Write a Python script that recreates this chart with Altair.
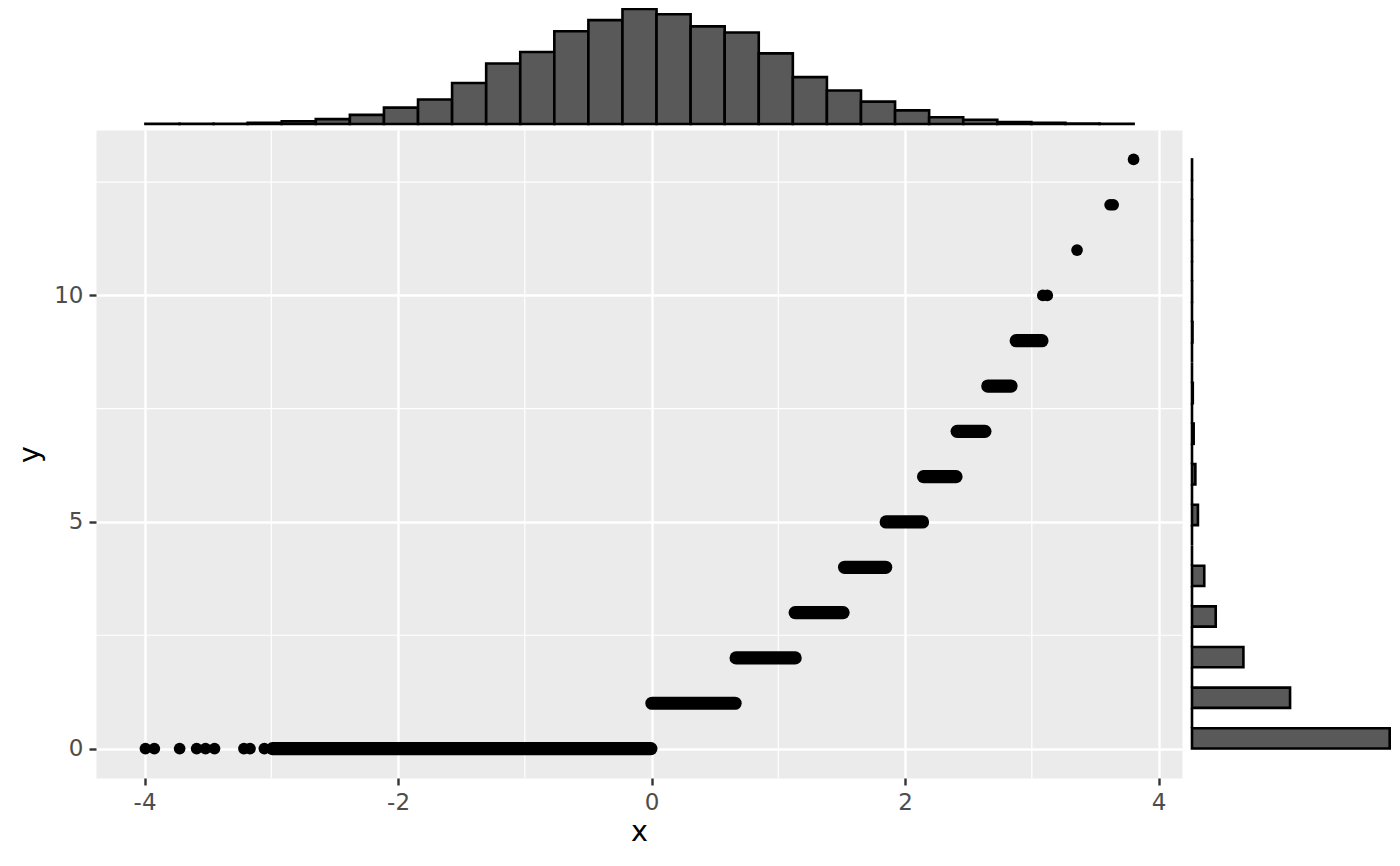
import altair as alt
import numpy as np
import pandas as pd

# ---------------- data ----------------
# isolated points of the scatter
pt_x = [-3.993, -3.923, -3.723, -3.589, -3.519, -3.448, -3.216, -3.168, -3.055,
        3.087, 3.122, 3.357, 3.618, 3.642, 3.803]
pt_y = [0, 0, 0, 0, 0, 0, 0, 0, 0, 10, 10, 11, 12, 12, 13]

# dense runs of overlapping points: first x, last x, y level
run_y = [0, 1, 2, 3, 4, 5, 6, 7, 8, 9]
run_x0 = [-2.99, 0.003, 0.667, 1.133, 1.523, 1.851, 2.146, 2.411, 2.653, 2.877]
run_x1 = [-0.005, 0.659, 1.133, 1.511, 1.847, 2.138, 2.402, 2.630, 2.836, 3.080]

# marginal histogram of x (29 bins over the x range)
x_min, x_max = -3.993, 3.803
top_counts = [3, 3, 2, 10, 26, 45, 84, 151, 226, 379, 559, 665, 857, 959, 1062,
              1013, 902, 845, 652, 433, 309, 207, 126, 63, 39, 18, 12, 5, 3]

# marginal histogram of y (29 bins over 0..13)
y_min, y_max = 0, 13
right_counts = [5000, 0, 2480, 0, 1300, 0, 600, 0, 310, 0, 0, 150, 0, 85, 0,
                42, 0, 20, 0, 0, 13, 0, 2, 0, 1, 0, 2, 0, 1]

major_x = [-4, -2, 0, 2, 4]
minor_x = [-3, -1, 1, 3]
major_y = [0, 5, 10]
minor_y = [2.5, 7.5, 12.5]

# ---------------- tables ----------------
pt_df = pd.DataFrame({"x": pt_x, "y": pt_y})
run_df = pd.DataFrame({"x0": run_x0, "x1": run_x1, "y": run_y})
xe = np.linspace(x_min, x_max, len(top_counts) + 1)
top_df = pd.DataFrame({"x0": xe[:-1], "x1": xe[1:], "count": top_counts, "base": 0})
ye = np.linspace(y_min, y_max, len(right_counts) + 1)
right_df = pd.DataFrame({"y0": ye[:-1], "y1": ye[1:], "count": right_counts, "base": 0})
mx_df = pd.DataFrame({"v": minor_x})
my_df = pd.DataFrame({"v": minor_y})

W, H = 1086, 648
FONT = "DejaVu Sans"
DOT = 13.2

X_SCALE = alt.Scale(domain=[-4.383, 4.185], nice=False, zero=False)
Y_SCALE = alt.Scale(domain=[-0.65, 13.65], nice=False, zero=False)

common_axis = dict(
    grid=True, gridColor="white", gridWidth=2.4, domain=False,
    tickColor="#333333", tickWidth=2.4, tickSize=7,
    labelColor="#4D4D4D", labelFont=FONT, labelFontSize=23, labelPadding=6,
    labelFlush=False, labelOverlap=False,
    labelExpr="replace(datum.label, '\u2212', '-')",
    titleFont=FONT, titleFontSize=28.6, titleFontWeight="normal", titleColor="black",
)
X_AX = alt.Axis(values=major_x, title="x", titlePadding=3, **common_axis)
Y_AX = alt.Axis(values=major_y, title="y", titlePadding=9, **common_axis)

vgrid = alt.Chart(mx_df).mark_rule(color="white", strokeWidth=1.2).encode(
    x=alt.X("v:Q", scale=X_SCALE, axis=X_AX)
)
hgrid = alt.Chart(my_df).mark_rule(color="white", strokeWidth=1.2).encode(
    y=alt.Y("v:Q", scale=Y_SCALE, axis=Y_AX)
)
runs = alt.Chart(run_df).mark_rule(color="black", strokeWidth=DOT, strokeCap="round").encode(
    x=alt.X("x0:Q", scale=X_SCALE, axis=X_AX),
    x2="x1:Q",
    y=alt.Y("y:Q", scale=Y_SCALE, axis=Y_AX),
)
points = alt.Chart(pt_df).mark_circle(color="black", size=float(np.pi * (DOT / 2) ** 2), opacity=1).encode(
    x=alt.X("x:Q", scale=X_SCALE, axis=X_AX),
    y=alt.Y("y:Q", scale=Y_SCALE, axis=Y_AX),
)
main = alt.layer(vgrid, hgrid, runs, points)

top = alt.Chart(top_df).mark_rect(fill="#595959", stroke="black", strokeWidth=2.6).encode(
    x=alt.X("x0:Q", scale=alt.Scale(domain=[-4.383, 4.185], nice=False, zero=False), axis=None),
    x2="x1:Q",
    y=alt.Y("count:Q", scale=alt.Scale(domain=[0, 1062], range=[-6, -121], nice=False, zero=False), axis=None),
    y2="base:Q",
)

right = alt.Chart(right_df).mark_rect(fill="#595959", stroke="black", strokeWidth=2.6).encode(
    y=alt.Y("y0:Q", scale=alt.Scale(domain=[-0.65, 13.65], nice=False, zero=False), axis=None),
    y2="y1:Q",
    x=alt.X("count:Q", scale=alt.Scale(domain=[0, 5000], range=[1096, 1293.7], nice=False, zero=False), axis=None),
    x2="base:Q",
)

chart = (
    alt.layer(main, top, right)
    .resolve_scale(x="independent", y="independent")
    .properties(
        width=W, height=H,
        padding={"left": 88, "top": 122, "right": 210, "bottom": 80},
        autosize=alt.AutoSizeParams(type="none"),
        background="white",
    )
    .configure_view(fill="#EBEBEB", stroke="transparent")
)

chart.save("out.html", embed_options={"renderer": "svg", "actions": False})
